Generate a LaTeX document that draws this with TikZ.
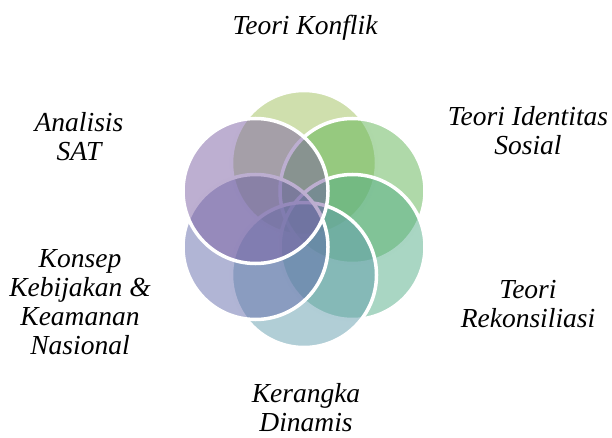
\documentclass[tikz,border=0pt]{standalone}
\usepackage{fontspec}
\setmainfont{Liberation Serif}
\usetikzlibrary{calc}
\newcommand*{\rad }{72.5pt}
\newcommand*{\dst }{56pt}
\definecolor{cKonflik}{RGB}{159,191,91}
\definecolor{cSosial}{RGB}{95,179,83}
\definecolor{cRekon}{RGB}{83,173,135}
\definecolor{cDinamis}{RGB}{99,157,173}
\definecolor{cNasional}{RGB}{99,107,171}
\definecolor{cSat}{RGB}{123,95,163}
\tikzset{
    petal/.style={fill=#1, fill opacity=0.5, draw=white, line width=3.5pt},
    lbl/.style={align=center, inner sep=0pt}
}

\begin{document}
\begin{tikzpicture}[x=1pt, y=1pt, font=\itshape\fontsize{27.5}{29}\selectfont]
    \useasboundingbox (0,0) rectangle (612,437);
    \coordinate (mid) at (304,218);
        \draw [petal=cKonflik ] ($(mid)+( 90:\dst)$) circle (\rad);
        \draw [petal=cSosial  ] ($(mid)+( 30:\dst)$) circle (\rad);
        \draw [petal=cRekon   ] ($(mid)+(-30:\dst)$) circle (\rad);
        \draw [petal=cDinamis ] ($(mid)+(-90:\dst)$) circle (\rad);
        \draw [petal=cNasional] ($(mid)+(210:\dst)$) circle (\rad);
        \draw [petal=cSat     ] ($(mid)+(150:\dst)$) circle (\rad);
        \node [lbl] (konflik)  at (305,409) {Teori Konflik};
        \node [lbl] (sosial)   at (528,306) {Teori Identitas\\Sosial};
        \node [lbl] (rekon)    at (528,133) {Teori\\Rekonsiliasi};
        \node [lbl] (dinamis)  at (306, 29) {Kerangka\\Dinamis};
        \node [lbl] (nasional) at ( 80,135) {Konsep\\Kebijakan \&\\Keamanan\\Nasional};
        \node [lbl] (sat)      at ( 79,300) {Analisis\\SAT};
\end{tikzpicture}
\end{document}
